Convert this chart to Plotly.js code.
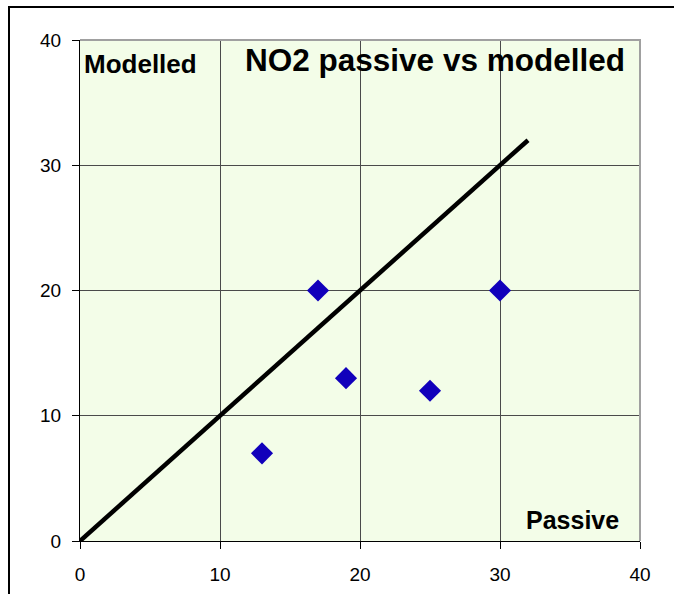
<!DOCTYPE html>
<html>
<head>
<meta charset="utf-8">
<script src="https://cdn.plot.ly/plotly-3.0.1.min.js"></script>
<style>
html,body{margin:0;padding:0;background:#fff;}
#chart{width:674px;height:594px;}
</style>
</head>
<body>
<div id="chart"></div>
<script>
// Data
var passive = [13, 17, 19, 25, 30];
var modelled = [7, 20, 13, 12, 20];
var lineX = [0, 32];
var lineY = [0, 32];
var tickVals = [0, 10, 20, 30, 40];
var tickText = ['0', '10', '20', '30', '40'];

var traces = [
  {
    x: lineX, y: lineY, type: 'scatter', mode: 'lines',
    line: {color: '#000000', width: 4.5}, hoverinfo: 'skip', showlegend: false
  },
  {
    x: passive, y: modelled, type: 'scatter', mode: 'markers',
    marker: {symbol: 'diamond', size: 17, color: '#1100BB', line: {width: 0}},
    showlegend: false
  }
];

var FONT = 'Liberation Sans, Arial, sans-serif';
var axisFont = {family: FONT, size: 19, color: '#000'};

var layout = {
  width: 674, height: 594,
  margin: {l: 80, r: 34, t: 40, b: 53},
  paper_bgcolor: '#ffffff',
  plot_bgcolor: '#F3FDE8',
  showlegend: false,
  title: {
    text: 'NO2 passive vs modelled',
    font: {family: FONT, size: 31.5, color: '#000', weight: 'bold'},
    xref: 'paper', x: (435 - 80) / 560, xanchor: 'center',
    yref: 'container', y: 1 - 60/594, yanchor: 'middle'
  },
  xaxis: {
    range: [0, 40], tickvals: tickVals, ticktext: tickText,
    ticks: 'outside', ticklen: 7, tickcolor: '#000', tickwidth: 1,
    ticklabelstandoff: 9,
    showline: true, linecolor: '#000', linewidth: 1,
    showgrid: true, gridcolor: '#4a4a4a', gridwidth: 1,
    zeroline: false, tickfont: axisFont, fixedrange: true
  },
  yaxis: {
    range: [0, 40], tickvals: tickVals, ticktext: tickText,
    ticks: 'outside', ticklen: 7, tickcolor: '#000', tickwidth: 1,
    ticklabelstandoff: 7,
    showline: true, linecolor: '#000', linewidth: 1,
    showgrid: true, gridcolor: '#4a4a4a', gridwidth: 1,
    zeroline: false, tickfont: axisFont, fixedrange: true
  },
  annotations: [
    {
      text: '<b>Modelled</b>', xref: 'paper', yref: 'paper',
      x: (140 - 80) / 560, y: (541 - 64) / 501, xanchor: 'center', yanchor: 'middle',
      showarrow: false, font: {family: FONT, size: 26, color: '#000'}
    },
    {
      text: '<b>Passive</b>', xref: 'paper', yref: 'paper',
      x: (572 - 80) / 560, y: (541 - 520) / 501, xanchor: 'center', yanchor: 'middle',
      showarrow: false, font: {family: FONT, size: 25, color: '#000'}
    }
  ],
  shapes: [
    {
      type: 'path', xref: 'paper', yref: 'paper',
      path: 'M 1,0 L 1,1 L 0,1',
      line: {color: '#A0A0A0', width: 2}, layer: 'above'
    },
    {
      type: 'path', xref: 'paper', yref: 'paper',
      path: 'M ' + ((9 - 80) / 560) + ',' + ((541 - 610) / 501) +
            ' L ' + ((9 - 80) / 560) + ',' + ((541 - 7) / 501) +
            ' L ' + ((690 - 80) / 560) + ',' + ((541 - 7) / 501),
      line: {color: '#000', width: 2}, layer: 'above'
    }
  ]
};

Plotly.newPlot('chart', traces, layout, {displayModeBar: false, staticPlot: true});
</script>
</body>
</html>
